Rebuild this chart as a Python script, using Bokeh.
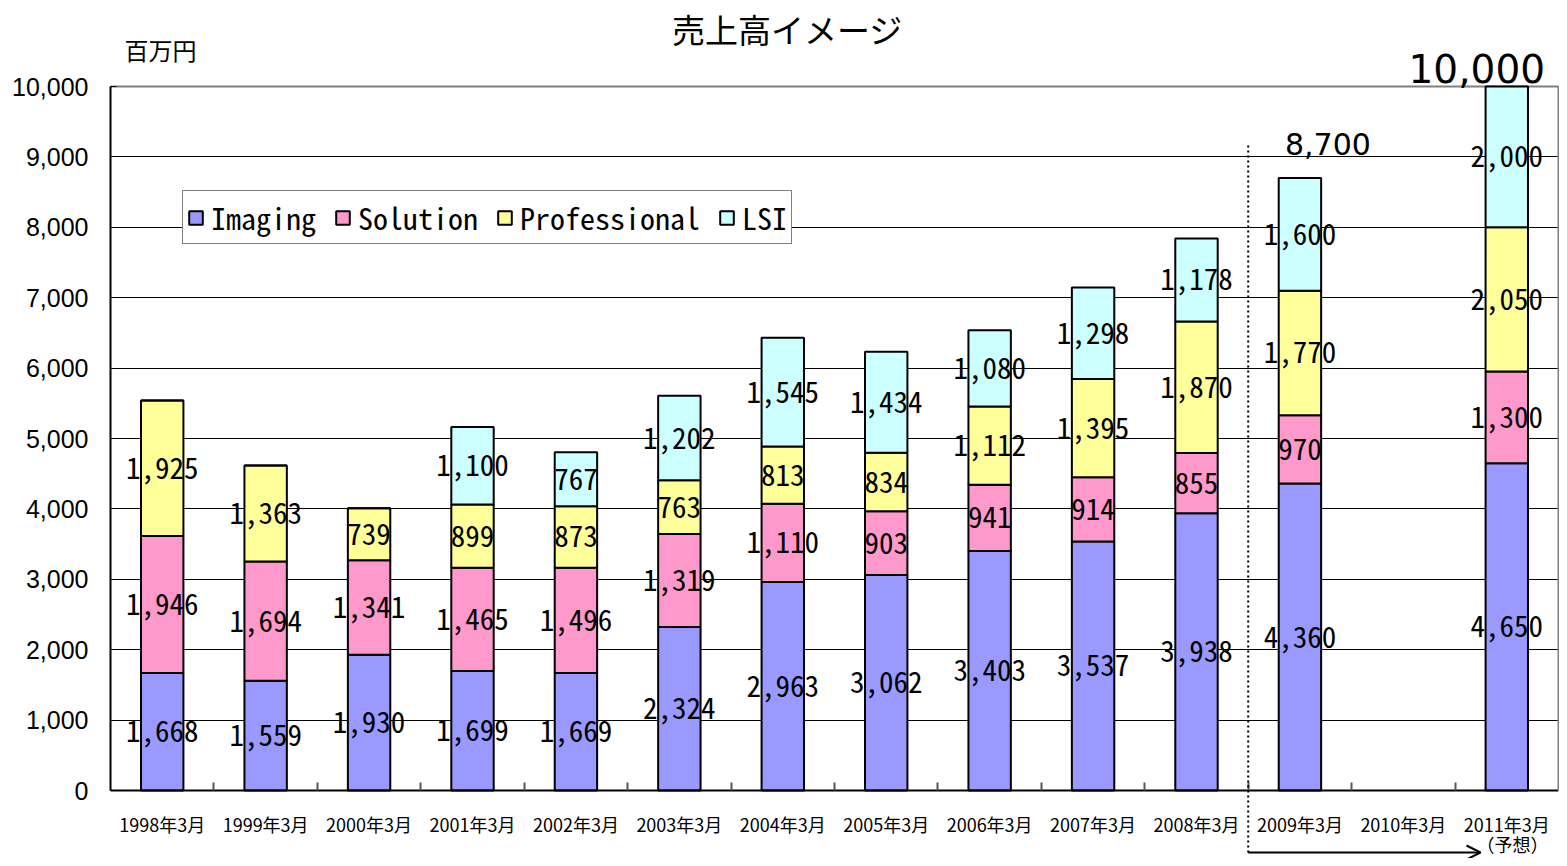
from bokeh.plotting import figure
from bokeh.models import (ColumnDataSource, FixedTicker, NumeralTickFormatter, Label,
                          Arrow, OpenHead, Legend, LinearAxis)
from bokeh.core.properties import value
from bokeh.embed import file_html
from bokeh.resources import INLINE

# ---------------- data ----------------
categories = ["1998年3月", "1999年3月", "2000年3月", "2001年3月", "2002年3月", "2003年3月",
              "2004年3月", "2005年3月", "2006年3月", "2007年3月", "2008年3月", "2009年3月",
              "2010年3月", "2011年3月"]
series = ["Imaging", "Solution", "Professional", "LSI"]
imaging = [1668, 1559, 1930, 1699, 1669, 2324, 2963, 3062, 3403, 3537, 3938, 4360, None, 4650]
solution = [1946, 1694, 1341, 1465, 1496, 1319, 1110, 903, 941, 914, 855, 970, None, 1300]
professional = [1925, 1363, 739, 899, 873, 763, 813, 834, 1112, 1395, 1870, 1770, None, 2050]
lsi = [0, 0, 0, 1100, 767, 1202, 1545, 1434, 1080, 1298, 1178, 1600, None, 2000]
colors = ["#9999FF", "#FF99CC", "#FFFF99", "#CCFFFF"]
forecast_from = "2009年3月"
y_ticks = [0, 1000, 2000, 3000, 4000, 5000, 6000, 7000, 8000, 9000, 10000]
title_text = "売上高イメージ"
unit_text = "百万円"
forecast_text = "（予想）"

# ---------------- layout (pixels) ----------------
W, H = 1559, 858
BL, BR = 110, 1
TOP_PX, ZERO_PX = 86, 790          # pixel rows of 10,000 and 0
n = len(categories)
YMAX = y_ticks[-1]
PXY = YMAX / (ZERO_PX - TOP_PX)    # data units per pixel (y)
PXX = n / (W - BL - BR)            # data units per pixel (x)
y_top = YMAX + TOP_PX * PXY
y_bot = -(H - ZERO_PX) * PXY
MONO = "Noto Sans Mono CJK JP, DejaVu Sans Mono"


def ypix(py):
    return (ZERO_PX - py) * PXY


def xpix(px):
    return 0.5 + (px - BL) * PXX


p = figure(width=W, height=H, x_range=(0.5, n + 0.5), y_range=(y_bot, y_top),
           output_backend="svg", toolbar_location=None,
           min_border_left=BL, min_border_right=BR, min_border_top=0, min_border_bottom=0)
p.background_fill_color = "white"
p.border_fill_color = "white"
p.outline_line_color = None

# top border of plot area
p.hspan(y=[YMAX], line_color="#808080", line_width=2)

# stacked bars
valid = [i for i, v in enumerate(imaging) if v is not None]
data = {"x": [i + 1 for i in valid]}
for name, arr in zip(series, [imaging, solution, professional, lsi]):
    data[name] = [arr[i] for i in valid]
src = ColumnDataSource(data)
renderers = p.vbar_stack(series, x="x", width=0.41, source=src, fill_color=colors,
                         line_color="black", line_width=2)

# value labels inside segments
lx, ly, lt = [], [], []
for i in valid:
    base = 0
    for arr in [imaging, solution, professional, lsi]:
        v = arr[i]
        if v and v > 0:
            lx.append(i + 1)
            ly.append(base + v / 2)
            lt.append(f"{v:,}")
        base += v
p.text(x=lx, y=ly, text=lt, text_align="center", text_baseline="middle",
       text_font=value(MONO), text_font_size="29px", text_color="black")

# totals for forecast years
fi = categories.index(forecast_from)
total_style = {fi: (28, 34, "30px"), n - 1: (-30, 18, "39px")}
for i in range(fi, n):
    if imaging[i] is None:
        continue
    tot = imaging[i] + solution[i] + professional[i] + lsi[i]
    dx, dy, fs = total_style[i]
    p.add_layout(Label(x=i + 1 + dx * PXX, y=tot + dy * PXY, text=f"{tot:,}",
                       text_align="center", text_baseline="middle",
                       text_font="DejaVu Sans", text_font_size=fs, text_color="black"))

# grid
p.xgrid.grid_line_color = None
p.ygrid.grid_line_color = "black"
p.ygrid.grid_line_width = 1
p.ygrid.ticker = FixedTicker(ticks=y_ticks)

# y axis
p.yaxis.ticker = FixedTicker(ticks=y_ticks)
p.yaxis.bounds = (0, YMAX)
p.yaxis.formatter = NumeralTickFormatter(format="0,0")
p.yaxis.axis_line_color = "black"
p.yaxis.axis_line_width = 2
p.yaxis.major_tick_in = 6
p.yaxis.major_tick_out = 0
p.yaxis.minor_tick_line_color = None
p.yaxis.major_label_standoff = 22
p.yaxis.major_label_text_font = "Liberation Sans"
p.yaxis.major_label_text_font_size = "25px"
p.yaxis.major_label_text_color = "black"

# x axis, fixed at zero
p.xaxis.fixed_location = 0
p.xaxis.ticker = FixedTicker(ticks=list(range(1, n + 1)),
                             minor_ticks=[k + 0.5 for k in range(1, n)])
p.xaxis.major_label_overrides = {i + 1: c for i, c in enumerate(categories)}
p.xaxis.axis_line_color = "black"
p.xaxis.axis_line_width = 2
p.xaxis.major_tick_in = 0
p.xaxis.major_tick_out = 0
p.xaxis.minor_tick_in = 8
p.xaxis.minor_tick_out = 0
p.xaxis.minor_tick_line_color = "#555555"
p.xaxis.minor_tick_line_width = 2
p.xaxis.major_label_standoff = 20
p.xaxis.major_label_text_font = "Noto Sans CJK JP"
p.xaxis.major_label_text_font_size = "18px"
p.xaxis.major_label_text_color = "black"

# right border of plot area
ra = LinearAxis(ticker=FixedTicker(ticks=[]), bounds=(0, YMAX),
                axis_line_color="#808080", axis_line_width=2,
                major_tick_line_color=None, minor_tick_line_color=None,
                major_label_text_font_size="0px")
p.add_layout(ra, "right")

# legend
legend = Legend(items=[(s, [r]) for s, r in zip(series, renderers)],
                orientation="horizontal", location=(182 - BL, H - 244))
legend.label_text_font = MONO
legend.label_text_font_size = "30px"
legend.label_text_color = "black"
legend.glyph_width = 17
legend.glyph_height = 17
legend.label_standoff = 7
legend.spacing = 18
legend.padding = 4
legend.margin = 0
legend.border_line_color = "black"
legend.border_line_width = 1
legend.background_fill_alpha = 1
p.add_layout(legend, "center")

# title & unit
p.add_layout(Label(x=xpix(787), y=ypix(28), text=title_text,
                   text_align="center", text_baseline="middle",
                   text_font="Noto Sans CJK JP", text_font_size="33px", text_color="black"))
p.add_layout(Label(x=xpix(124), y=ypix(49), text=unit_text,
                   text_align="left", text_baseline="middle",
                   text_font="Noto Sans CJK JP", text_font_size="24px", text_color="black"))

# forecast divider and arrow
xd = fi + 0.5
y_arrow = ypix(852)
p.add_layout(Arrow(end=None, x_start=xd, y_start=ypix(145), x_end=xd, y_end=y_arrow,
                   line_color="black", line_width=2, line_dash="2 3"))
p.add_layout(Arrow(end=OpenHead(size=14, line_width=2, line_color="black"),
                   x_start=xd, y_start=y_arrow, x_end=xpix(1480), y_end=y_arrow,
                   line_color="black", line_width=2))
p.add_layout(Label(x=xpix(1476), y=ypix(843), text=forecast_text,
                   text_align="left", text_baseline="middle",
                   text_font="Noto Sans CJK JP", text_font_size="18px", text_color="black"))

open("out.html", "w").write(file_html(p, INLINE))
